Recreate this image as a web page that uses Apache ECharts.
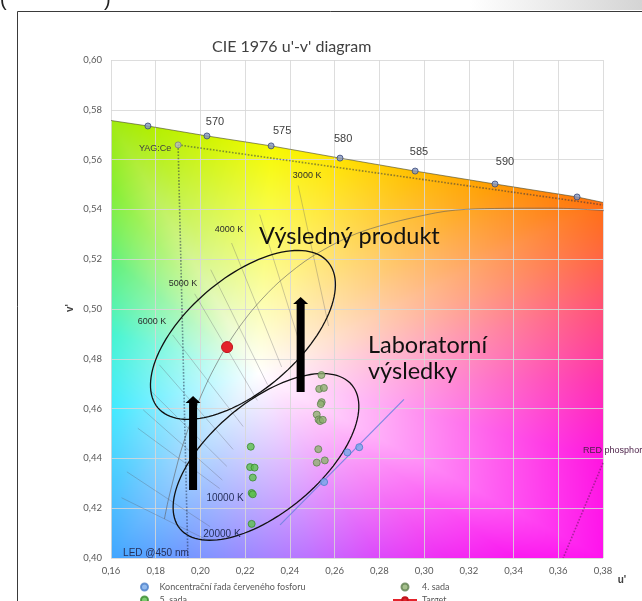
<!DOCTYPE html>
<html>
<head>
<meta charset="utf-8">
<script src="https://cdn.jsdelivr.net/npm/echarts@6/dist/echarts.min.js"></script>
<style>
  html, body { margin: 0; padding: 0; background: #fff; }
  #chart { width: 642px; height: 601px; }
</style>
</head>
<body>
<div id="chart"></div>
<script>
// axis ranges (u', v')
const U_MIN = 0.16, U_MAX = 0.38, V_MIN = 0.40, V_MAX = 0.60, STEP = 0.02;

// spectral locus (top edge of the coloured area)
const locusU = [0.16, 0.1765, 0.2029, 0.2316, 0.2624, 0.2960, 0.3317, 0.3684, 0.38];
const locusV = [0.5757, 0.5735, 0.5695, 0.5655, 0.5606, 0.5554, 0.5502, 0.5450, 0.5428];

// wavelength markers on the locus
const waveU = [0.1765, 0.2029, 0.2316, 0.2624, 0.2960, 0.3317, 0.3684];
const waveV = [0.5735, 0.5695, 0.5655, 0.5606, 0.5554, 0.5502, 0.5450];
const waveLabels = ['570', '575', '580', '585', '590'];
const waveLabelU = [0.2065, 0.2365, 0.2638, 0.2977, 0.3362];
const waveLabelV = [0.5751, 0.5715, 0.5683, 0.5631, 0.5590];

// Planckian locus
const planckU = [0.1839, 0.1857, 0.1903, 0.1921, 0.1946, 0.1981, 0.2033, 0.2069, 0.2114, 0.2173, 0.2251, 0.2357, 0.2505, 0.2722, 0.3051, 0.3230, 0.3579, 0.4047];
const planckV = [0.4157, 0.4236, 0.4400, 0.4454, 0.4521, 0.4606, 0.4712, 0.4775, 0.4847, 0.4927, 0.5016, 0.5113, 0.5214, 0.5311, 0.5386, 0.5402, 0.5405, 0.5376];

// isotherms (top end -> bottom end)
const isoK  = [3000, 3500, 4000, 4500, 5000, 6000, 7000, 8000, 9000, 10000, 15000, 20000];
const isoU1 = [0.2437, 0.2265, 0.2139, 0.2046, 0.1974, 0.1875, 0.1816, 0.1774, 0.1744, 0.1720, 0.1671, 0.1647];
const isoV1 = [0.5496, 0.5379, 0.5265, 0.5158, 0.5061, 0.4896, 0.4776, 0.4674, 0.4595, 0.4521, 0.4346, 0.4242];
const isoU2 = [0.2573, 0.2449, 0.2363, 0.2300, 0.2254, 0.2191, 0.2146, 0.2118, 0.2098, 0.2086, 0.2043, 0.2031];
const isoV2 = [0.4932, 0.4847, 0.4767, 0.4696, 0.4633, 0.4528, 0.4436, 0.4368, 0.4313, 0.4279, 0.4126, 0.4072];
const isoLabels = ['3000 K', '4000 K', '5000 K', '6000 K', '10000 K', '20000 K'];
const isoLabelU = [0.2477, 0.2128, 0.1922, 0.1783, 0.2110, 0.2096];
const isoLabelV = [0.5538, 0.5321, 0.5104, 0.4948, 0.4241, 0.4096];

// phosphor / LED construction lines
const yagPoint = [0.19, 0.5659];
const ledEnd = [0.1944, 0.40];
const yagRightEnd = [0.38, 0.5418];
const redLineU = [0.38, 0.3622];
const redLineV = [0.4382, 0.40];

// measured series
const koncU = [0.2553, 0.2657, 0.2710];
const koncV = [0.4305, 0.4424, 0.4445];
const trendU = [0.2356, 0.2910];
const trendV = [0.4133, 0.4637];
const sada4U = [0.2541, 0.2531, 0.2552, 0.2542, 0.2538, 0.2520, 0.2528, 0.2535, 0.2547, 0.2527, 0.2520, 0.2556];
const sada4V = [0.4735, 0.4679, 0.4683, 0.4626, 0.4618, 0.4576, 0.4556, 0.4550, 0.4555, 0.4437, 0.4383, 0.4392];
const sada5U = [0.2225, 0.2222, 0.2242, 0.2234, 0.2229, 0.2234, 0.2229];
const sada5V = [0.4447, 0.4365, 0.4363, 0.4323, 0.4261, 0.4256, 0.4137];
const targetPoint = [0.2119, 0.4847];

// ellipses: centre, first and second half-axis vectors
const ellCU = [0.2190, 0.2293];
const ellCV = [0.4896, 0.4406];
const ellAU = [0.0380, 0.0384];
const ellAV = [0.0293, 0.0289];
const ellBU = [0.0163, 0.0158];
const ellBV = [-0.0171, -0.0169];

// arrows: u, v of tail, v of tip
const arrowU = [0.1967, 0.2448];
const arrowV0 = [0.4273, 0.4667];
const arrowV1 = [0.4651, 0.5048];

// annotation texts
const noteTexts = ['Výsledný produkt', 'Laboratorní\nvýsledky'];
const noteU = [0.2262, 0.2749];
const noteV = [0.5293, 0.4803];

// colours along the edge of the diagram (background shading)
const whitePoint = [0.226, 0.474];
const edgeU = [0.38, 0.38, 0.38, 0.38, 0.38, 0.38, 0.3684, 0.3317, 0.2960, 0.2624, 0.2316, 0.2029, 0.1765, 0.16, 0.16, 0.16, 0.16, 0.16, 0.16, 0.16, 0.19, 0.22, 0.25, 0.28, 0.31, 0.34];
const edgeV = [0.40, 0.44, 0.47, 0.50, 0.525, 0.5428, 0.5450, 0.5502, 0.5554, 0.5606, 0.5655, 0.5695, 0.5735, 0.5757, 0.55, 0.52, 0.49, 0.46, 0.43, 0.40, 0.40, 0.40, 0.40, 0.40, 0.40, 0.40];
const edgeColors = ['#ff12ee', '#ff14e0', '#ff30b0', '#ff5078', '#ff6838', '#ff7010', '#ff7a08', '#ff9c00', '#ffbe00', '#ffe200', '#f6fa00', '#d0f400', '#b0ee00', '#a0ea10', '#86ee30', '#60f07a', '#44f4d0', '#40eaff', '#46c8ff', '#40a6ff', '#6c98ff', '#9a88ff', '#be70ff', '#dc48fa', '#f02cf2', '#fa18f0'];

const fontArial = '"Liberation Sans", Arial, sans-serif';
const fontCalibri = 'Lato, "Noto Sans", sans-serif';

function interp(xs, ys, x) {
  if (x <= xs[0]) return ys[0];
  for (let i = 1; i < xs.length; i++) {
    if (x <= xs[i]) {
      const f = (x - xs[i - 1]) / (xs[i] - xs[i - 1]);
      return ys[i - 1] + f * (ys[i] - ys[i - 1]);
    }
  }
  return ys[ys.length - 1];
}

function hexRgb(h) {
  return [parseInt(h.slice(1, 3), 16), parseInt(h.slice(3, 5), 16), parseInt(h.slice(5, 7), 16)];
}

// background shading of the chromaticity area, clipped by the locus
function buildFill() {
  const W = 492, H = 498;
  const cv = document.createElement('canvas');
  cv.width = W; cv.height = H;
  const ctx = cv.getContext('2d');
  const img = ctx.createImageData(W, H);
  const du = U_MAX - U_MIN, dv = V_MAX - V_MIN;
  const wx = (whitePoint[0] - U_MIN) / du, wy = (whitePoint[1] - V_MIN) / dv;
  const anchors = edgeU.map((u, k) => {
    const x = (u - U_MIN) / du - wx, y = (edgeV[k] - V_MIN) / dv - wy;
    return { a: Math.atan2(y, x), r: Math.hypot(x, y), c: hexRgb(edgeColors[k]) };
  }).sort((p, q) => p.a - q.a);
  const n = anchors.length;
  for (let j = 0; j < H; j++) {
    const v = V_MAX - (j + 0.5) / H * dv;
    for (let i = 0; i < W; i++) {
      const u = U_MIN + (i + 0.5) / W * du;
      const top = interp(locusU, locusV, u);
      const alpha = Math.max(0, Math.min(1, (top - v) / (dv / H) + 0.5));
      const idx = (j * W + i) * 4;
      if (alpha <= 0) { img.data[idx + 3] = 0; continue; }
      const x = (u - U_MIN) / du - wx, y = (v - V_MIN) / dv - wy;
      const a = Math.atan2(y, x), d = Math.hypot(x, y);
      let k = n - 1;
      for (let m = 0; m < n; m++) { if (anchors[m].a <= a) k = m; }
      if (a < anchors[0].a) k = n - 1;
      const p = anchors[k], q = anchors[(k + 1) % n];
      let span = q.a - p.a; if (span <= 0) span += Math.PI * 2;
      let diff = a - p.a; if (diff < 0) diff += Math.PI * 2;
      const f = diff / span;
      const r = p.r + (q.r - p.r) * f;
      const t = Math.min(1, d / r);
      for (let c = 0; c < 3; c++) {
        const col = p.c[c] + (q.c[c] - p.c[c]) * f;
        img.data[idx + c] = Math.round(255 * (1 - t) + col * t);
      }
      img.data[idx + 3] = Math.round(alpha * 255);
    }
  }
  ctx.putImageData(img, 0, 0);
  return cv;
}

const fillCanvas = buildFill();
const fmt = (v) => v.toFixed(2).replace('.', ',');
const pairs = (us, vs) => us.map((u, i) => [u, vs[i]]);

function textSeries(name, texts, us, vs, style) {
  return {
    type: 'custom',
    name: name,
    silent: true,
    z: 10,
    data: us.map((u, i) => [u, vs[i]]),
    renderItem: (params, api) => {
      const p = api.coord([api.value(0), api.value(1)]);
      return {
        type: 'text',
        style: Object.assign({ x: p[0], y: p[1], text: texts[params.dataIndex] }, style)
      };
    }
  };
}

function legendColumn(left, itemWidth, items) {
  return {
    orient: 'vertical', left: left, top: 581, height: 60, padding: 0,
    itemWidth: itemWidth, itemHeight: 7, itemGap: 1,
    selectedMode: false,
    textStyle: { fontSize: 9, color: '#595959', fontFamily: fontCalibri, lineHeight: 12 },
    data: items
  };
}

const chart = echarts.init(document.getElementById('chart'), null, { renderer: 'canvas' });

chart.setOption({
  animation: false,
  backgroundColor: '#fff',
  title: {
    text: "CIE 1976 u'-v' diagram",
    left: 207,
    top: 34,
    textStyle: { fontSize: 16, fontWeight: 'normal', color: '#404040', fontFamily: fontCalibri }
  },
  graphic: [
    { type: 'rect', shape: { x: 17.5, y: 11.5, width: 700, height: 700 }, style: { fill: null, stroke: '#3a3a3a', lineWidth: 1 } },
    { type: 'rect', shape: { x: 470, y: 0, width: 172, height: 10 },
      style: { fill: new echarts.graphic.LinearGradient(0, 0, 1, 0, [{ offset: 0, color: '#ffffff' }, { offset: 1, color: '#d4d4d4' }]) } },
    { type: 'text', style: { x: 0, y: 10, text: '(', font: '20px ' + fontArial, fill: '#222', verticalAlign: 'bottom' } },
    { type: 'text', style: { x: 104, y: 10, text: ')', font: '20px ' + fontArial, fill: '#222', verticalAlign: 'bottom' } },
    { type: 'text', x: 70, y: 308, rotation: Math.PI / 2,
      style: { x: 0, y: 0, text: "v'", font: 'bold 10px ' + fontArial, fill: '#404040', align: 'center', verticalAlign: 'middle' } },
    { type: 'text', style: { x: 622, y: 580, text: "u'", font: 'bold 10px ' + fontArial, fill: '#404040', align: 'center', verticalAlign: 'middle' } }
  ],
  legend: [
    legendColumn(140, 20, [{ name: 'Koncentrační řada červeného fosforu', icon: 'circle' }, { name: '5. sada', icon: 'circle' }]),
    legendColumn(392, 24, [{ name: '4. sada', icon: 'circle' }, { name: 'Target' }])
  ],
  grid: { left: 111, right: 39, top: 60, bottom: 43 },
  xAxis: {
    type: 'value', min: U_MIN, max: U_MAX, interval: STEP,
    axisLine: { show: false }, axisTick: { show: false },
    splitLine: { show: true, lineStyle: { color: 'rgba(215,215,215,0.85)', width: 1 } },
    axisLabel: { formatter: fmt, color: '#595959', fontSize: 9.5, margin: 8, fontFamily: fontCalibri }
  },
  yAxis: {
    type: 'value', min: V_MIN, max: V_MAX, interval: STEP,
    axisLine: { show: false }, axisTick: { show: false },
    splitLine: { show: true, lineStyle: { color: 'rgba(215,215,215,0.85)', width: 1 } },
    axisLabel: { formatter: fmt, color: '#595959', fontSize: 9.5, margin: 9, fontFamily: fontCalibri }
  },
  series: [
    {
      type: 'custom', name: 'fill', silent: true, z: -1,
      data: [[U_MIN, V_MAX]],
      renderItem: (params, api) => {
        const p0 = api.coord([U_MIN, V_MAX]);
        const p1 = api.coord([U_MAX, V_MIN]);
        return { type: 'image', style: { image: fillCanvas, x: p0[0], y: p0[1], width: p1[0] - p0[0], height: p1[1] - p0[1] } };
      }
    },
    {
      type: 'lines', name: 'isotherms', coordinateSystem: 'cartesian2d', silent: true, z: 3,
      data: isoK.map((k, i) => ({ coords: [[isoU1[i], isoV1[i]], [isoU2[i], isoV2[i]]] })),
      lineStyle: { color: 'rgba(90,90,100,0.6)', width: 1 }
    },
    {
      type: 'line', name: 'planck', silent: true, z: 3, showSymbol: false, smooth: 0.3,
      data: pairs(planckU, planckV),
      lineStyle: { color: 'rgba(95,95,95,0.6)', width: 1 }
    },
    {
      type: 'line', name: 'locus', silent: true, z: 3, showSymbol: false,
      data: pairs(locusU, locusV),
      lineStyle: { color: 'rgba(70,70,40,0.6)', width: 1 }
    },
    {
      type: 'lines', name: 'yag', coordinateSystem: 'cartesian2d', silent: true, z: 4,
      data: [{ coords: [yagPoint, ledEnd] }, { coords: [yagPoint, yagRightEnd] }],
      lineStyle: { type: 'dotted', color: '#1e2c48', width: 1.6 }
    },
    {
      type: 'lines', name: 'red', coordinateSystem: 'cartesian2d', silent: true, z: 4,
      data: [{ coords: pairs(redLineU, redLineV) }],
      lineStyle: { type: 'dotted', color: '#5a1a50', width: 1.6 }
    },
    {
      type: 'line', name: 'trend', silent: true, z: 4, showSymbol: false,
      data: pairs(trendU, trendV),
      lineStyle: { color: 'rgba(115,130,225,0.9)', width: 1.2 }
    },
    {
      type: 'scatter', name: 'wavelengths', silent: true, z: 5, symbolSize: 6,
      data: pairs(waveU, waveV),
      itemStyle: { color: '#8797c0', borderColor: '#3b4a78', borderWidth: 1 }
    },
    {
      type: 'scatter', name: 'YAG:Ce', silent: true, z: 5, symbolSize: 6,
      data: [yagPoint],
      itemStyle: { color: '#b8bcc4', borderColor: '#7a7e88', borderWidth: 1 }
    },
    {
      type: 'custom', name: 'ellipses', silent: true, z: 6,
      data: ellCU.map((c, i) => [c, ellCV[i], ellAU[i], ellAV[i], ellBU[i], ellBV[i]]),
      renderItem: (params, api) => {
        const cu = api.value(0), cv = api.value(1);
        const au = api.value(2), av = api.value(3), bu = api.value(4), bv = api.value(5);
        const pts = [];
        for (let k = 0; k <= 120; k++) {
          const t = k / 120 * Math.PI * 2;
          pts.push(api.coord([cu + au * Math.cos(t) + bu * Math.sin(t), cv + av * Math.cos(t) + bv * Math.sin(t)]));
        }
        return { type: 'polyline', shape: { points: pts }, style: { stroke: '#111', lineWidth: 1.3, fill: null } };
      }
    },
    {
      type: 'scatter', name: 'Koncentrační řada červeného fosforu', z: 7, symbolSize: 7,
      data: pairs(koncU, koncV),
      itemStyle: { color: '#76a8e8', borderColor: '#4a7ec8', borderWidth: 1 }
    },
    {
      type: 'scatter', name: '4. sada', z: 7, symbolSize: 7,
      data: pairs(sada4U, sada4V),
      itemStyle: { color: '#8fb070', borderColor: '#5f7f4f', borderWidth: 1 }
    },
    {
      type: 'scatter', name: '5. sada', z: 7, symbolSize: 7,
      data: pairs(sada5U, sada5V),
      itemStyle: { color: '#5cc04c', borderColor: '#3a8a2e', borderWidth: 1 }
    },
    {
      type: 'line', name: 'Target', z: 8, symbol: 'circle', symbolSize: 11,
      data: [targetPoint],
      itemStyle: { color: '#e4232b', borderColor: '#c0141c', borderWidth: 1 },
      lineStyle: { color: '#e4232b', width: 1 }
    },
    {
      type: 'custom', name: 'arrows', silent: true, z: 9,
      data: arrowU.map((u, i) => [u, arrowV0[i], arrowV1[i]]),
      renderItem: (params, api) => {
        const p0 = api.coord([api.value(0), api.value(1)]);
        const p1 = api.coord([api.value(0), api.value(2)]);
        const x = p0[0], headH = 7, shaftW = 8, headW = 15;
        return {
          type: 'group',
          children: [
            { type: 'rect', shape: { x: x - shaftW / 2, y: p1[1] + headH - 1, width: shaftW, height: p0[1] - p1[1] - headH + 1 }, style: { fill: '#000' } },
            { type: 'polygon', shape: { points: [[x - headW / 2, p1[1] + headH], [x, p1[1]], [x + headW / 2, p1[1] + headH]] }, style: { fill: '#000' } }
          ]
        };
      }
    },
    textSeries('waveLabels', waveLabels, waveLabelU, waveLabelV,
      { font: '11px ' + fontArial, fill: '#404040', align: 'center', verticalAlign: 'middle' }),
    textSeries('isoLabelsTop', isoLabels.slice(0, 4), isoLabelU.slice(0, 4), isoLabelV.slice(0, 4),
      { font: '9px ' + fontArial, fill: '#2c2c2c', align: 'center', verticalAlign: 'middle' }),
    textSeries('isoLabelsBottom', isoLabels.slice(4), isoLabelU.slice(4), isoLabelV.slice(4),
      { font: '10px ' + fontArial, fill: '#26305a', align: 'center', verticalAlign: 'middle' }),
    textSeries('yagLabel', ['YAG:Ce'], [0.1797], [0.5643],
      { font: '9px ' + fontArial, fill: '#404040', align: 'center', verticalAlign: 'middle' }),
    textSeries('ledLabel', ['LED @450 nm'], [0.1801], [0.4020],
      { font: '10px ' + fontArial, fill: '#26305a', align: 'center', verticalAlign: 'middle' }),
    textSeries('redLabel', ['RED phosphor'], [0.3711], [0.4430],
      { font: '9px ' + fontArial, fill: '#4a1e46', align: 'left', verticalAlign: 'middle' }),
    textSeries('notes', noteTexts, noteU, noteV,
      { font: '23.5px ' + fontCalibri, fill: '#111', align: 'left', verticalAlign: 'middle', lineHeight: 26 })
  ]
});
</script>
</body>
</html>
